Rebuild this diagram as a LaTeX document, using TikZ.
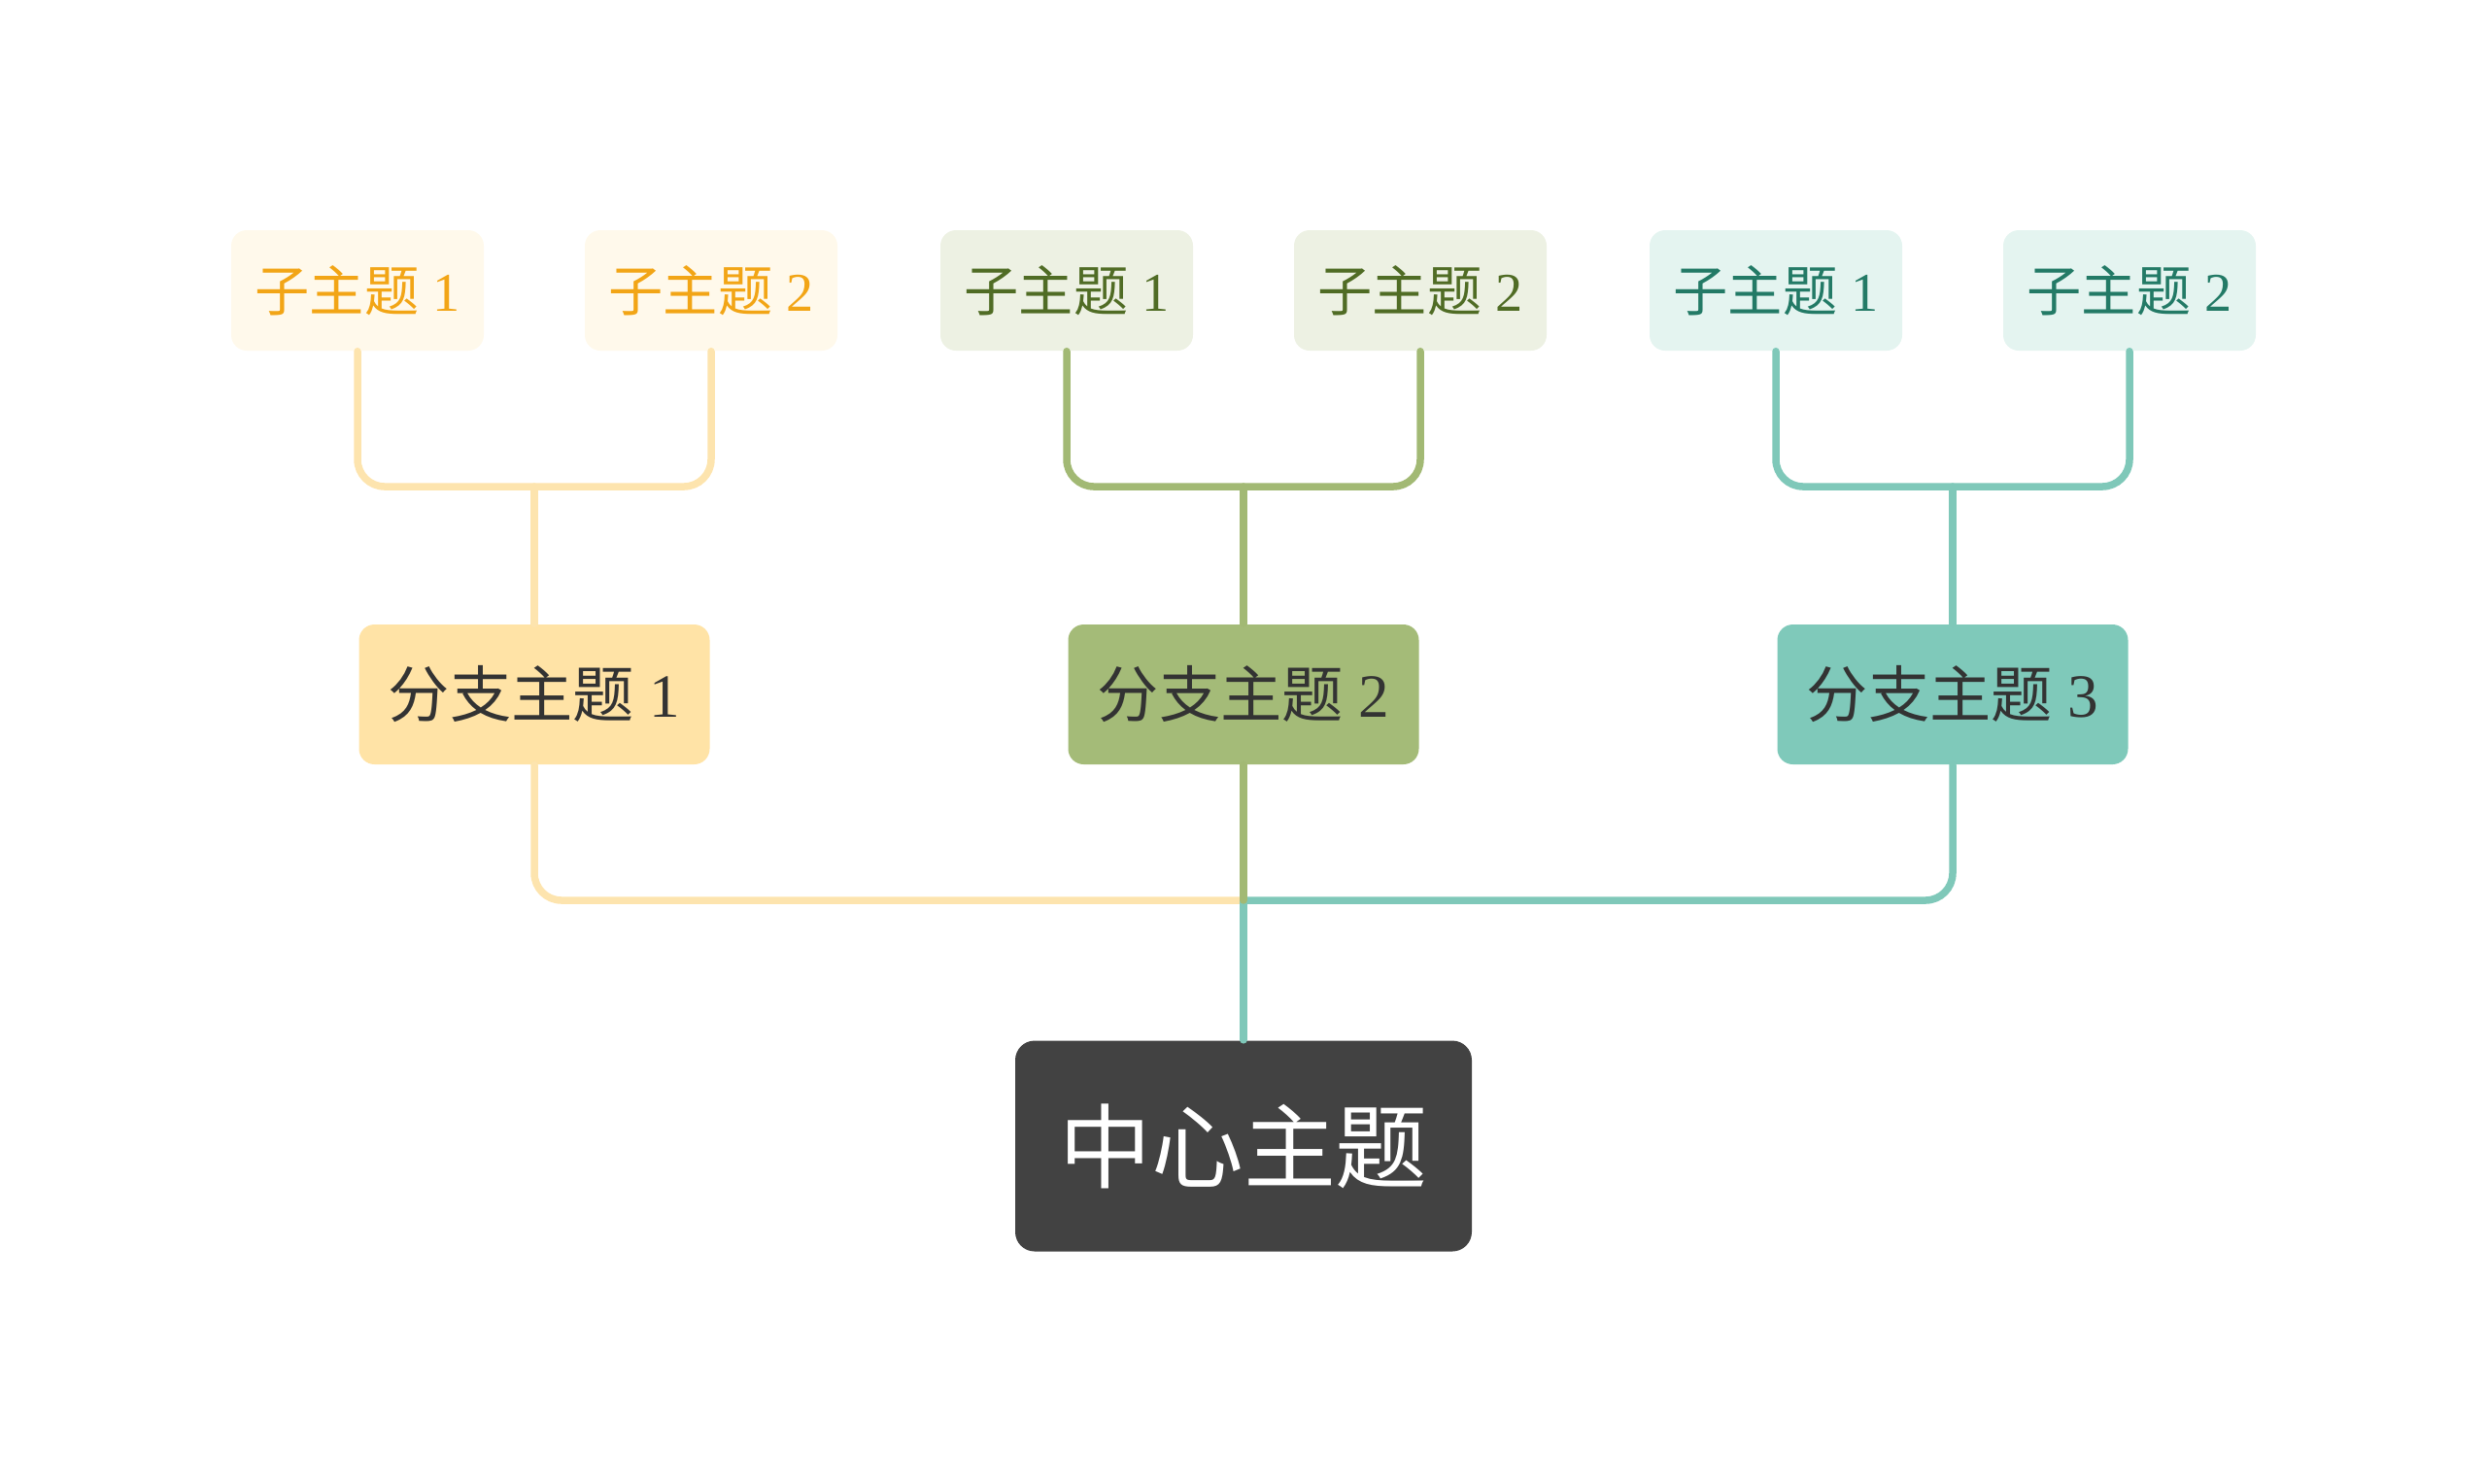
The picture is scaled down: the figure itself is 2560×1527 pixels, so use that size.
\documentclass[tikz,border=0pt]{standalone}
\usepackage{fontspec}
\setmainfont{Liberation Serif}
\newfontfamily\cjk{Noto Sans CJK SC}
\usetikzlibrary{positioning}
\definecolor{rootfill}{HTML}{424242}
\definecolor{branchtext}{HTML}{333333}
\definecolor{yelbranch}{HTML}{FFE3A6}
\definecolor{yelsub}{HTML}{FFF9EB}
\definecolor{yeltext}{HTML}{F2A516}
\definecolor{yellink}{HTML}{FDE4AE}
\definecolor{grnbranch}{HTML}{A4BB78}
\definecolor{grnsub}{HTML}{EDF1E3}
\definecolor{grntext}{HTML}{506C25}
\definecolor{grnlink}{HTML}{A2B974}
\definecolor{tealbranch}{HTML}{7FC9BA}
\definecolor{tealsub}{HTML}{E4F4F0}
\definecolor{tealtext}{HTML}{237A66}
\definecolor{teallink}{HTML}{7FC8B9}

\begin{document}
\begin{tikzpicture}[
    x=0.1mm, y=-0.1mm,
    line join=round,
    line cap=round,
    rootbox/.style={fill=rootfill, text=white, rounded corners=2mm, inner sep=0pt,
        minimum width=47mm, minimum height=21.7mm, font=\cjk\fontsize{27}{30}\selectfont},
    branchbox/.style={rounded corners=1.6mm, inner sep=0pt, text=branchtext,
        minimum width=36.1mm, minimum height=14.4mm, font=\fontsize{18}{21}\selectfont},
    subbox/.style={rounded corners=1.6mm, inner sep=0pt,
        minimum width=26mm, minimum height=12.4mm, font=\fontsize{16}{19}\selectfont},
    link/.style={line width=0.75mm, rounded corners=2.8mm}
]

    \useasboundingbox (0,0) rectangle (2560,1527);

    % Central topic
    \node[rootbox] (root) at (1280,1180) {中心主题};

    % Main branches
    \node[branchbox, fill=yelbranch] (b1) at (550,715) {{\cjk 分支主题} 1};
    \node[branchbox, fill=grnbranch] (b2) at (1280,715) {{\cjk 分支主题} 2};
    \node[branchbox, fill=tealbranch] (b3) at (2010,715) {{\cjk 分支主题} 3};

    % Sub topics
    \node[subbox, fill=yelsub, text=yeltext] (y1) at (368,299) {{\cjk 子主题} 1};
    \node[subbox, fill=yelsub, text=yeltext] (y2) at (732,299) {{\cjk 子主题} 2};
    \node[subbox, fill=grnsub, text=grntext] (g1) at (1098,299) {{\cjk 子主题} 1};
    \node[subbox, fill=grnsub, text=grntext] (g2) at (1462,299) {{\cjk 子主题} 2};
    \node[subbox, fill=tealsub, text=tealtext] (t1) at (1828,299) {{\cjk 子主题} 1};
    \node[subbox, fill=tealsub, text=tealtext] (t2) at (2192,299) {{\cjk 子主题} 2};

    % Junction points
    \coordinate (yj) at (550,501);
    \coordinate (gj) at (1280,501);
    \coordinate (tj) at (2010,501);
    \coordinate (cj) at (1280,927);

    % Branch to sub topic links
    \draw[link, yellink] (y1.south) |- (yj) -| (y2.south);
    \draw[link, yellink] (yj) -- (b1.north);
    \draw[link, grnlink] (g1.south) |- (gj) -| (g2.south);
    \draw[link, grnlink] (gj) -- (b2.north);
    \draw[link, teallink] (t1.south) |- (tj) -| (t2.south);
    \draw[link, teallink] (tj) -- (b3.north);

    % Root to branch links
    \draw[link, yellink] (b1.south) |- (cj);
    \draw[link, teallink] (b3.south) |- (cj);
    \draw[link, teallink] (cj) -- (root.north);
    \draw[link, grnlink] (b2.south) -- (cj);

\end{tikzpicture}
\end{document}
